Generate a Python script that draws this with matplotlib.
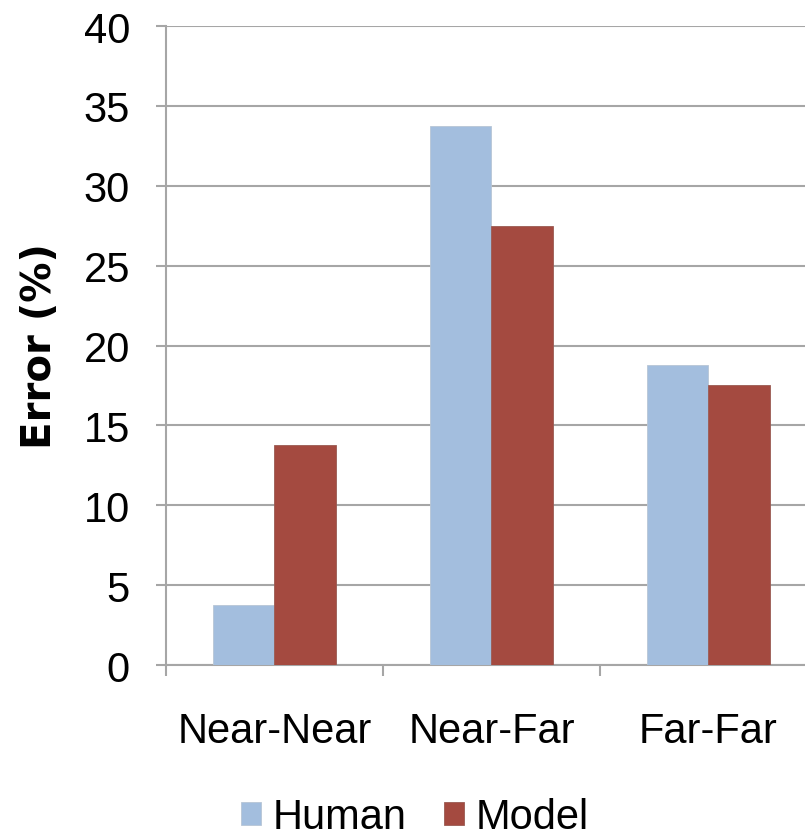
import numpy as np
import matplotlib
matplotlib.use('Agg')
from matplotlib import pyplot as plt

# data
categories = ['Near-Near', 'Near-Far', 'Far-Far']
human = [3.75, 33.75, 18.75]
model = [13.75, 27.5, 17.5]
yticks = [0, 5, 10, 15, 20, 25, 30, 35, 40]

blue = '#A3BEDE'
red = '#A44A40'
grey = '#A6A6A6'

plt.rcParams['font.family'] = ['Liberation Sans', 'DejaVu Sans']

fig = plt.figure(figsize=(8.05, 8.37), dpi=100)
ax = fig.add_axes([0.2062, 0.2043, 0.8087, 0.7634])

x = np.arange(len(categories))
w = 0.285
ax.bar(x - w / 2, human, w, color=blue, label='Human', zorder=3,
       edgecolor='#b8c6d6', linewidth=0.6)
ax.bar(x + w / 2, model, w, color=red, label='Model', zorder=3,
       edgecolor='#9a5a52', linewidth=0.6)

ax.set_xlim(-0.5, 2.5)
ax.set_ylim(0, 40)
ax.set_yticks(yticks)
ax.set_yticklabels([str(t) for t in yticks], fontsize=30)
ax.yaxis.grid(True, color=grey, linewidth=1.5, zorder=0)
ax.set_axisbelow(True)

ax.set_xticks(x)
ax.set_xticklabels(categories, fontsize=30)
ax.set_xticks([-0.5, 0.5, 1.5, 2.5], minor=True)
ax.tick_params(axis='x', which='major', length=0, pad=33)
ax.tick_params(axis='x', which='minor', length=8, width=1.5, color=grey, direction='out')
ax.tick_params(axis='y', length=7, width=1.5, color=grey, pad=19)

for s in ['top', 'right']:
    ax.spines[s].set_visible(False)
for s in ['left', 'bottom']:
    ax.spines[s].set_color(grey)
    ax.spines[s].set_linewidth(1.5)

ax.set_ylabel('Error (%)', fontsize=29, fontweight='bold', family='DejaVu Sans', va='center')
ax.yaxis.set_label_coords(-0.193, 0.5)

fig.legend(loc='center', bbox_to_anchor=(415 / 805, 1 - 818 / 837), ncol=2, frameon=False,
           fontsize=30, handlelength=0.47, handleheight=0.47, handletextpad=0.28,
           columnspacing=0.9)

fig.savefig('out.png', dpi=100)
